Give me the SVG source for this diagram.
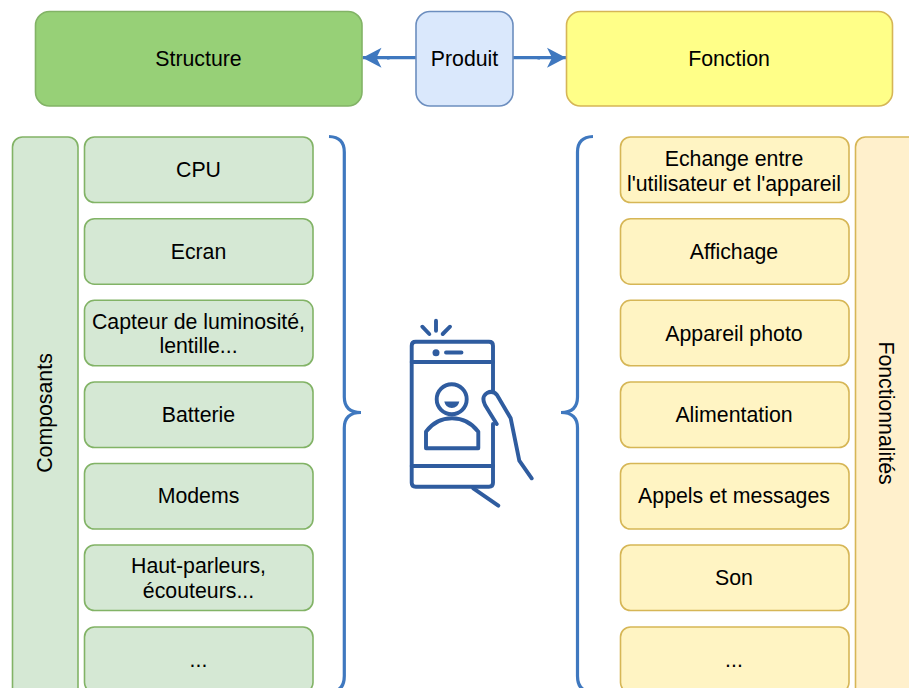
<svg xmlns="http://www.w3.org/2000/svg" width="909" height="688" viewBox="0 0 909 688">
<defs>
<marker id="arrow" markerUnits="userSpaceOnUse" markerWidth="20" markerHeight="22" refX="19" refY="11" orient="auto">
<path d="M0 1L19 11L0 21L5 11Z" fill="#3f78bf"/>
</marker>
</defs>
<style>
text{font-family:"Liberation Sans",Arial,sans-serif;font-size:21.3px;fill:#000;text-anchor:middle}
.g{fill:#d5e8d4;stroke:#82b366;stroke-width:1.6}
.y{fill:#fff4c3;stroke:#d6b656;stroke-width:1.6}
.p{fill:#fff0cc;stroke:#d6b656;stroke-width:1.6}
.c{fill:none;stroke:#3f78bf;stroke-width:3.2}
.i{fill:none;stroke:#2f5c9f;stroke-width:3.9;stroke-linecap:round;stroke-linejoin:round}
</style>
<rect width="909" height="688" fill="#fff"/>
<g id="connectors">
<path class="c" d="M416 57.700H362.500" marker-end="url(#arrow)"/>
<path class="c" d="M513 57.700H566" marker-end="url(#arrow)"/>
<rect x="387" y="56" width="2.500" height="3.500" fill="#3f78bf"/>
<rect x="537.500" y="56" width="2.500" height="3.500" fill="#3f78bf"/>
</g>
<g id="structure"><rect x="35.500" y="11.500" width="326.500" height="94.500" rx="14" fill="#97d077" stroke="#82b366" stroke-width="1.6"/><text x="198.500" y="65.500">Structure</text></g>
<g id="produit"><rect x="416" y="11.500" width="97" height="94.500" rx="14" fill="#dae8fc" stroke="#6c8ebf" stroke-width="1.6"/><text x="464.500" y="65.500">Produit</text></g>
<g id="fonction"><rect x="566.500" y="11.500" width="326" height="94.500" rx="14" fill="#ffff88" stroke="#d6b656" stroke-width="1.6"/><text x="729" y="65.500">Fonction</text></g>

<g id="composants"><rect class="g" x="12.500" y="137" width="65.500" height="570" rx="10"/><text transform="translate(52 413) rotate(-90)">Composants</text></g>
<g id="g1"><rect class="g" x="84.500" y="137" width="228.500" height="65.500" rx="10"/><text x="198.500" y="177">CPU</text></g>
<g id="g2"><rect class="g" x="84.500" y="218.700" width="228.500" height="65.500" rx="10"/><text x="198.500" y="259">Ecran</text></g>
<g id="g3"><rect class="g" x="84.500" y="300.300" width="228.500" height="65.500" rx="10"/><text x="198.500" y="329">Capteur de luminosité,</text><text x="198.500" y="353">lentille...</text></g>
<g id="g4"><rect class="g" x="84.500" y="382" width="228.500" height="65.500" rx="10"/><text x="198.500" y="422">Batterie</text></g>
<g id="g5"><rect class="g" x="84.500" y="463.500" width="228.500" height="65.500" rx="10"/><text x="198.500" y="503">Modems</text></g>
<g id="g6"><rect class="g" x="84.500" y="545" width="228.500" height="65.500" rx="10"/><text x="198.500" y="573">Haut-parleurs,</text><text x="198.500" y="598">écouteurs...</text></g>
<g id="g7"><rect class="g" x="84.500" y="627" width="228.500" height="65.500" rx="10"/><text x="198.500" y="667">...</text></g>

<g id="y1"><rect class="y" x="620.500" y="137" width="228.500" height="65.500" rx="10"/><text x="734" y="166">Echange entre</text><text x="734" y="190.500">l'utilisateur et l'appareil</text></g>
<g id="y2"><rect class="y" x="620.500" y="218.700" width="228.500" height="65.500" rx="10"/><text x="734" y="259">Affichage</text></g>
<g id="y3"><rect class="y" x="620.500" y="300.300" width="228.500" height="65.500" rx="10"/><text x="734" y="340.500">Appareil photo</text></g>
<g id="y4"><rect class="y" x="620.500" y="382" width="228.500" height="65.500" rx="10"/><text x="734" y="422">Alimentation</text></g>
<g id="y5"><rect class="y" x="620.500" y="463.500" width="228.500" height="65.500" rx="10"/><text x="734" y="503">Appels et messages</text></g>
<g id="y6"><rect class="y" x="620.500" y="545" width="228.500" height="65.500" rx="10"/><text x="734" y="585">Son</text></g>
<g id="y7"><rect class="y" x="620.500" y="627" width="228.500" height="65.500" rx="10"/><text x="734" y="667">...</text></g>
<g id="fonctionnalites"><rect class="p" x="855.500" y="137" width="80" height="570" rx="10"/><text transform="translate(879 413) rotate(90)">Fonctionnalités</text></g>

<g id="brace-left"><path class="c" d="M329 136.500Q344.300 137 344.300 152V397Q344.300 412.500 361 412.500Q344.300 412.500 344.300 428V676Q344.300 692 329 692"/></g>
<g id="brace-right"><path class="c" d="M593 136.500Q577.500 137 577.500 152V397Q577.500 412.500 561 412.500Q577.500 412.500 577.500 428V676Q577.500 692 593 692"/></g>

<g id="phone">
<path class="i" d="M493 392V345.700Q493 341.700 489 341.700H415.700Q411.700 341.700 411.700 345.700V482.700Q411.700 486.700 415.700 486.700H489Q493 486.700 493 482.700V424"/>
<path class="i" d="M411.700 362H493M411.700 466H493M446 352.500H461.500M436 320.700V330.700M422.300 326.700L429.300 334M450 326.700L442.700 334"/>
<circle cx="436" cy="352.700" r="3.500" fill="#2f5c9f"/>
<circle class="i" cx="451.700" cy="399.300" r="15"/>
<path d="M444.300 401.500H459.300Q458 408 451.800 408Q445.600 408 444.300 401.500Z" fill="#2f5c9f"/>
<path class="i" d="M426 448.300V431.700Q436 418.300 452 418.300Q468 418.300 478.300 431.700V448.300Z"/>
<path class="i" d="M496.700 424L485 405Q481 397 487 393Q493 390 497 395L510.700 418.300L519.300 460.700L531.700 478.300M473.300 488.300L498.300 505.700"/>
</g>
</svg>
